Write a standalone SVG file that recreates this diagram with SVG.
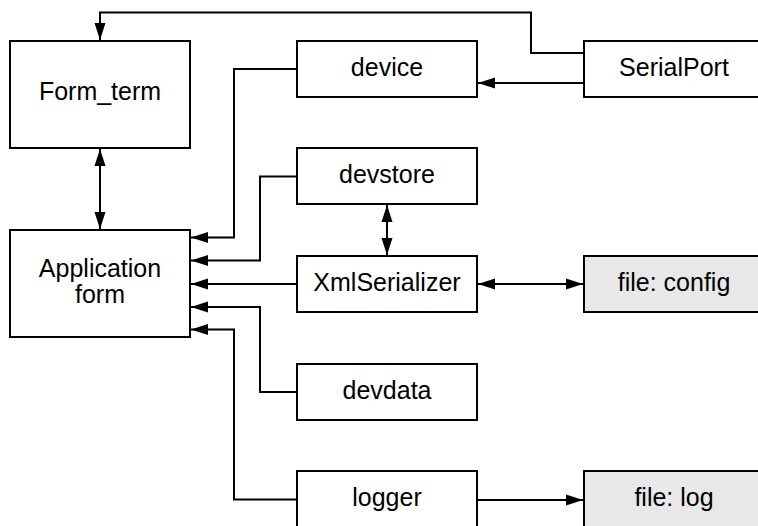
<svg xmlns="http://www.w3.org/2000/svg" width="758" height="526" viewBox="0 0 758 526">
<defs>
<marker id="ah" markerUnits="userSpaceOnUse" markerWidth="18" markerHeight="12" refX="17" refY="5.5" orient="auto-start-reverse" viewBox="0 0 18 11">
<path d="M0,0 L17,5.5 L0,11 z" fill="#000"/>
</marker>
<style>
.box{fill:#fff;stroke:#000;stroke-width:2}
.file{fill:#e8e8e8;stroke:#000;stroke-width:2}
.lbl{font-family:"Liberation Sans",Arial,sans-serif;font-size:25px;fill:#000;text-anchor:middle}
.c{fill:none;stroke:#000;stroke-width:2}
.end{marker-end:url(#ah)}
.both{marker-start:url(#ah);marker-end:url(#ah)}
</style>
</defs>
<rect width="758" height="526" fill="#fff"/>
<g id="form_term"><rect class="box" x="10" y="41" width="180" height="107"/><text class="lbl" x="100" y="100">Form_term</text></g>
<g id="app_form"><rect class="box" x="10" y="230" width="180" height="107"/><text class="lbl" x="100" y="277">Application</text><text class="lbl" x="100" y="303">form</text></g>
<g id="device"><rect class="box" x="297" y="41" width="180" height="56"/><text class="lbl" x="387" y="76">device</text></g>
<g id="serialport"><rect class="box" x="584" y="41" width="180" height="56"/><text class="lbl" x="674" y="76">SerialPort</text></g>
<g id="devstore"><rect class="box" x="297" y="148" width="180" height="56"/><text class="lbl" x="387" y="183">devstore</text></g>
<g id="xmlserializer"><rect class="box" x="297" y="256" width="180" height="56"/><text class="lbl" x="387" y="291">XmlSerializer</text></g>
<g id="file_config"><rect class="file" x="584" y="256" width="180" height="56"/><text class="lbl" x="674" y="291">file: config</text></g>
<g id="devdata"><rect class="box" x="297" y="364" width="180" height="56"/><text class="lbl" x="387" y="399">devdata</text></g>
<g id="logger"><rect class="box" x="297" y="471" width="180" height="56"/><text class="lbl" x="387" y="506">logger</text></g>
<g id="file_log"><rect class="file" x="584" y="471" width="180" height="56"/><text class="lbl" x="674" y="506">file: log</text></g>
<g id="connectors">
<path class="c end" d="M584,53 H531 V12.5 H100 V40"/>
<path class="c end" d="M584,83 H478"/>
<path class="c end" d="M297,69 H234 V237.5 H191"/>
<path class="c end" d="M297,176.5 H260 V260.5 H191"/>
<path class="c end" d="M297,284 H191"/>
<path class="c end" d="M297,392 H260 V307 H191"/>
<path class="c end" d="M297,499.5 H234 V329.5 H191"/>
<path class="c both" d="M100,149 V229"/>
<path class="c both" d="M387,205 V255"/>
<path class="c both" d="M478,284 H583"/>
<path class="c end" d="M477,500 H583"/>
</g>
</svg>
